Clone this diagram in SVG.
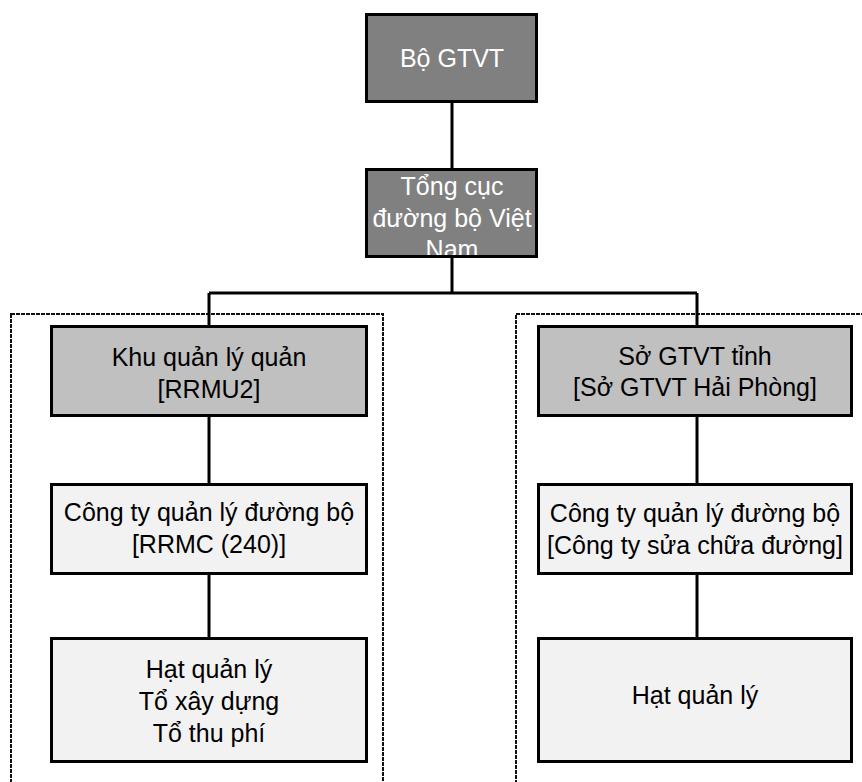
<svg xmlns="http://www.w3.org/2000/svg" width="862" height="782" viewBox="0 0 862 782">
<style>
text{font-family:"Liberation Sans",Arial,sans-serif;font-size:25px;text-anchor:middle;fill:#000}
.w{fill:#fff}
.box{stroke:#000;stroke-width:3}
.l1{fill:#808080}
.l2{fill:#c0c0c0}
.l3{fill:#f2f2f2}
.edge{stroke:#000;stroke-width:3;fill:none}
.grp{fill:none;stroke:#111;stroke-width:2;stroke-dasharray:4 1}
</style>
<rect width="862" height="782" fill="#fff"/>
<g id="groups">
<rect class="grp" x="11" y="314" width="372" height="480"/>
<rect class="grp" x="516" y="314" width="360" height="480"/>
</g>
<g id="connectors">
<path class="edge" d="M452 102V169M452 257V293M209 293H697M209 293V326M697 293V326"/>
<path class="edge" d="M209 416V484M209 574V638M697 416V484M697 574V638"/>
</g>
<g id="bo-gtvt">
<rect class="box l1" x="366.5" y="14.5" width="170" height="87"/>
<text class="w" x="452" y="67">Bộ GTVT</text>
</g>
<g id="tong-cuc">
<rect class="l1" x="366.5" y="169.5" width="170" height="87"/>
<text class="w" x="452" y="195">Tổng cục</text>
<text class="w" x="452" y="227">đường bộ Việt</text>
<text class="w" x="452" y="258">Nam</text>
<rect class="box" fill="none" x="366.5" y="169.5" width="170" height="87"/>
</g>
<g id="khu-quan-ly">
<rect class="box l2" x="51.5" y="326.5" width="315" height="89"/>
<text x="209" y="366">Khu quản lý quản</text>
<text x="209" y="398">[RRMU2]</text>
</g>
<g id="so-gtvt">
<rect class="box l2" x="538.5" y="326.5" width="313" height="89"/>
<text x="695" y="365">Sở GTVT tỉnh</text>
<text x="695" y="396">[Sở GTVT Hải Phòng]</text>
</g>
<g id="cong-ty-left">
<rect class="box l3" x="51.5" y="484.5" width="315" height="89"/>
<text x="209" y="521">Công ty quản lý đường bộ</text>
<text x="209" y="553">[RRMC (240)]</text>
</g>
<g id="cong-ty-right">
<rect class="box l3" x="538.5" y="484.5" width="313" height="89"/>
<text x="695" y="522">Công ty quản lý đường bộ</text>
<text x="695" y="554">[Công ty sửa chữa đường]</text>
</g>
<g id="hat-left">
<rect class="box l3" x="51.5" y="638.5" width="315" height="123"/>
<text x="209" y="678">Hạt quản lý</text>
<text x="209" y="710">Tổ xây dựng</text>
<text x="209" y="742">Tổ thu phí</text>
</g>
<g id="hat-right">
<rect class="box l3" x="538.5" y="638.5" width="313" height="123"/>
<text x="695" y="704">Hạt quản lý</text>
</g>
</svg>
